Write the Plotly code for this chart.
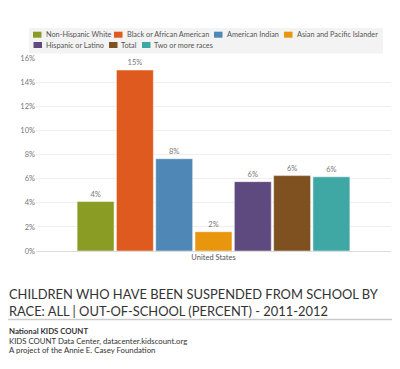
import plotly.graph_objects as go

# ---- data ----
categories = ["United States"]
series_names = ["Non-Hispanic White", "Black or African American", "American Indian",
                "Asian and Pacific Islander", "Hispanic or Latino", "Total", "Two or more races"]
series_values = [4.1, 15.0, 7.65, 1.6, 5.75, 6.25, 6.15]
y_tick_vals = [0, 2, 4, 6, 8, 10, 12, 14, 16]
y_tick_text = ["0%", "2%", "4%", "6%", "8%", "10%", "12%", "14%", "16%"]
title_lines = ["CHILDREN WHO HAVE BEEN SUSPENDED FROM SCHOOL BY",
               "RACE: ALL | OUT-OF-SCHOOL (PERCENT) - 2011-2012"]
footer_lines = ["<b>National KIDS COUNT</b>",
                "KIDS COUNT Data Center, datacenter.kidscount.org",
                "A project of the Annie E. Casey Foundation"]

# ---- style ----
colors = ["#8b9c25", "#de5a1f", "#4f87b7", "#e9960f", "#5f4a7f", "#7f5120", "#3fa8a4"]
FONT = "Lato, Liberation Sans, sans-serif"
W, H = 400, 369
L, R, T, B = 36, 9, 58, 118
pw, ph = W - L - R, H - T - B


def px(x):
    return (x - L) / pw


def py(y):
    return (H - B - y) / ph


fig = go.Figure()
for name, val, col in zip(series_names, series_values, colors):
    fig.add_trace(go.Bar(
        x=categories, y=[val], name=name,
        marker=dict(color=col, line=dict(color="rgba(255,255,255,0.6)", width=0.8)),
        text=[f"{round(val):d}%"], textposition="outside",
        textfont=dict(size=7.5, color="#777", family=FONT),
        cliponaxis=False, showlegend=False,
    ))

shapes = []
annotations = []

# legend box
shapes.append(dict(type="rect", xref="paper", yref="paper",
                   x0=px(29), x1=px(383), y0=py(28), y1=py(53.5),
                   fillcolor="#f3f3f3", line=dict(width=0), layer="below"))
leg_pos = [(33, 45, 34.7), (114, 126, 34.7), (214, 226, 34.7), (284, 295.5, 34.7),
           (33.5, 45, 45), (109, 120, 45), (142, 153, 45)]
for (sx, tx, cy), name, col in zip(leg_pos, series_names, colors):
    shapes.append(dict(type="rect", xref="paper", yref="paper",
                       x0=px(sx), x1=px(sx + 8.5), y0=py(cy - 3), y1=py(cy + 3),
                       fillcolor=col, line=dict(width=0)))
    annotations.append(dict(text=name, xref="paper", yref="paper", x=px(tx - 1), y=py(cy),
                            xanchor="left", yanchor="middle", showarrow=False,
                            font=dict(size=7.3, color="#555", family=FONT)))

# title (one block, two lines)
annotations.append(dict(text="<br>".join(title_lines), xref="paper", yref="paper",
                        x=px(7), y=py(302), xanchor="left", yanchor="middle", align="left",
                        showarrow=False, font=dict(size=12.9, color="#333", family=FONT)))
shapes.append(dict(type="line", xref="paper", yref="paper", x0=px(8), x1=px(392),
                   y0=py(319.5), y1=py(319.5), line=dict(color="#cccccc", width=1.5)))
for i, line in enumerate(footer_lines):
    annotations.append(dict(text=line, xref="paper", yref="paper", x=px(7), y=py(331 + i * 9.7),
                            xanchor="left", yanchor="middle", showarrow=False,
                            font=dict(size=7.8, color="#333", family=FONT)))

fig.update_layout(
    width=W, height=H, margin=dict(l=L, r=R, t=T, b=B, pad=0),
    paper_bgcolor="white", plot_bgcolor="white",
    barmode="group", bargap=0.225, bargroupgap=0.06,
    font=dict(family=FONT, color="#666"),
    shapes=shapes, annotations=annotations, showlegend=False,
)
fig.update_yaxes(range=[0, 16], tickvals=y_tick_vals, ticktext=y_tick_text,
                 tickfont=dict(size=7.5, color="#777"), gridcolor="#efefef", gridwidth=1,
                 zeroline=True, zerolinecolor="#dcdcdc", zerolinewidth=1, ticks="",
                 showline=False, fixedrange=True)
fig.update_xaxes(tickfont=dict(size=7.5, color="#555"), showgrid=False, showline=False,
                 ticks="", fixedrange=True)

fig.write_html("out.html")
